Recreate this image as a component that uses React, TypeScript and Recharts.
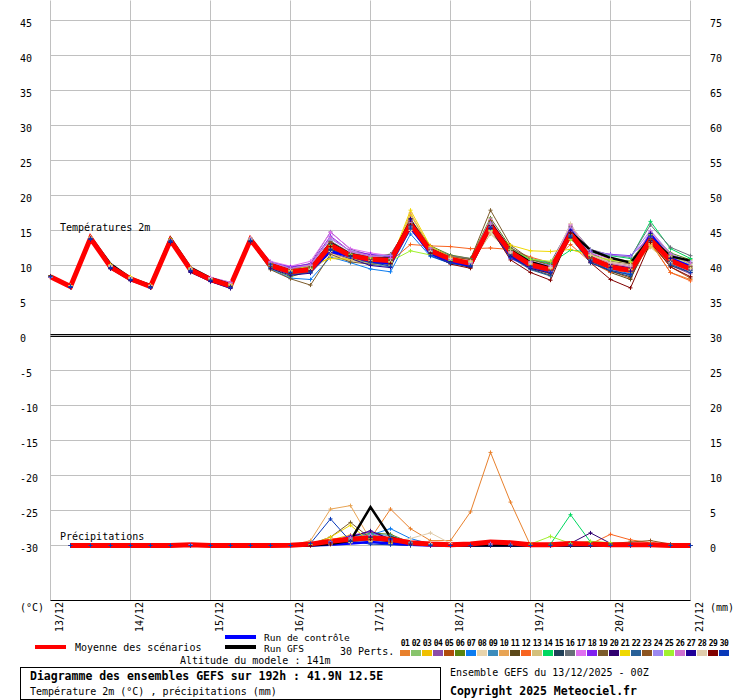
import { CartesianGrid, Line, LineChart, ReferenceLine, XAxis, YAxis } from "recharts";

const FONT = "'DejaVu Sans Mono', monospace";

const hours = [0, 6, 12, 18, 24, 30, 36, 42, 48, 54, 60, 66, 72, 78, 84, 90, 96, 102, 108, 114, 120, 126, 132, 138, 144, 150, 156, 162, 168, 174, 180, 186, 192];
const dayTicks = [0, 24, 48, 72, 96, 120, 144, 168, 192];
const dayLabels = ["13/12", "14/12", "15/12", "16/12", "17/12", "18/12", "19/12", "20/12", "21/12"];
const tempTicks = [45, 40, 35, 30, 25, 20, 15, 10, 5, 0, -5, -10, -15, -20, -25, -30];
const precipTicks = [75, 70, 65, 60, 55, 50, 45, 40, 35, 30, 25, 20, 15, 10, 5, 0];

const pertLabels = ["01", "02", "03", "04", "05", "06", "07", "08", "09", "10", "11", "12", "13", "14", "15", "16", "17", "18", "19", "20", "21", "22", "23", "24", "25", "26", "27", "28", "29", "30"];
const pertColors = ["#e8802c", "#88c46c", "#f0c000", "#8c4ca8", "#b04c0c", "#5a8410", "#0c7cf0", "#e8d4ac", "#3c8cbc", "#e8a454", "#5c4818", "#f86420", "#d4c07c", "#00d860", "#204058", "#687078", "#e070f0", "#8020f0", "#7c5c2c", "#300070", "#f0d800", "#286098", "#8c5420", "#9c88f0", "#a0f030", "#d070d0", "#200098", "#e0ccac", "#800000", "#0838b8"];

// temperatures 2m (°C)
const meanT = [8.4, 7.0, 13.9, 9.8, 8.1, 7.0, 13.6, 9.4, 8.0, 7.1, 13.7, 10.0, 9.1, 9.4, 12.9, 11.4, 10.9, 10.7, 15.9, 12.1, 10.9, 10.3, 15.7, 11.9, 10.1, 9.4, 14.5, 11.0, 9.8, 9.3, 13.7, 10.7, 9.5];
const ctlT = [8.4, 7.0, 13.9, 9.8, 8.0, 7.0, 13.5, 9.3, 7.9, 6.9, 13.6, 10.0, 9.0, 9.4, 12.0, 11.3, 10.6, 10.3, 15.4, 11.7, 10.6, 10.0, 15.6, 11.5, 10.0, 9.3, 15.1, 11.2, 9.9, 9.5, 14.4, 11.0, 9.9];
const gfsT = [8.5, 7.1, 14.1, 10.2, 8.2, 7.2, 13.9, 9.7, 8.2, 7.3, 13.9, 10.2, 9.2, 9.5, 13.2, 11.6, 11.0, 11.0, 16.3, 12.3, 11.0, 10.3, 16.1, 12.2, 10.5, 9.7, 14.8, 12.2, 11.1, 10.4, 13.9, 11.3, 10.7];

const t01 = [8.4, 7.0, 13.9, 9.9, 8.1, 7.0, 13.7, 9.5, 8.0, 7.0, 13.6, 10.2, 9.4, 9.8, 13.2, 11.6, 11.0, 10.5, 16.2, 12.3, 11.0, 10.0, 15.2, 11.5, 9.8, 9.0, 14.8, 11.2, 9.5, 9.0, 13.2, 9.0, 8.0];
const t02 = [8.5, 7.1, 14.0, 9.8, 8.2, 7.1, 13.5, 9.3, 8.1, 7.2, 13.8, 9.8, 8.8, 9.0, 12.5, 11.2, 10.8, 10.9, 15.6, 12.0, 10.8, 10.4, 16.0, 12.2, 10.5, 9.8, 14.2, 11.3, 10.2, 9.8, 14.2, 11.2, 9.8];
const t03 = [8.4, 7.0, 13.8, 10.0, 8.3, 7.1, 13.7, 9.6, 8.2, 7.3, 13.9, 10.1, 9.2, 10.1, 11.0, 10.9, 10.5, 10.2, 17.2, 12.6, 11.2, 10.6, 16.5, 12.0, 10.2, 9.6, 15.0, 11.5, 10.3, 9.5, 12.8, 10.2, 9.0];
const t04 = [8.3, 6.9, 13.9, 9.6, 8.0, 6.9, 13.4, 9.2, 7.9, 7.0, 13.6, 10.5, 9.7, 10.3, 14.8, 12.3, 11.5, 11.2, 16.3, 12.4, 11.1, 10.2, 15.8, 11.7, 9.9, 9.2, 15.5, 11.8, 10.5, 10.0, 14.0, 10.0, 8.8];
const t05 = [8.4, 7.1, 14.0, 9.9, 8.1, 7.0, 13.6, 9.5, 8.0, 7.1, 13.7, 9.9, 9.0, 9.5, 12.2, 11.0, 10.4, 10.1, 15.5, 12.5, 11.3, 10.8, 15.0, 11.2, 9.6, 8.8, 14.0, 10.6, 9.2, 8.2, 13.5, 9.8, 8.2];
const t06 = [8.5, 7.0, 13.9, 9.7, 8.0, 7.0, 13.8, 9.4, 8.1, 7.2, 13.5, 9.6, 8.4, 9.2, 12.0, 11.3, 10.9, 10.8, 16.6, 12.8, 11.5, 11.0, 16.8, 12.6, 10.8, 10.2, 14.8, 12.0, 11.0, 10.6, 14.5, 11.8, 10.8];
const t07 = [8.3, 6.9, 13.8, 9.7, 8.0, 6.8, 13.5, 9.2, 7.8, 6.9, 13.4, 9.5, 8.2, 8.0, 11.2, 10.4, 9.5, 9.1, 14.5, 11.3, 10.3, 9.8, 15.2, 11.4, 9.7, 9.0, 14.2, 10.8, 9.5, 8.8, 13.4, 10.4, 9.2];
const t08 = [8.4, 7.1, 14.0, 10.0, 8.2, 7.1, 13.6, 9.5, 8.1, 7.3, 13.8, 10.0, 9.3, 9.6, 11.5, 11.0, 10.6, 10.6, 15.0, 12.2, 11.1, 10.5, 14.8, 12.0, 10.4, 9.7, 15.8, 11.6, 10.4, 9.9, 12.9, 10.5, 9.2];
const t09 = [8.4, 7.0, 13.9, 9.8, 8.0, 7.0, 13.5, 9.3, 7.9, 7.0, 13.6, 9.7, 8.9, 9.1, 12.4, 11.1, 10.2, 9.8, 15.2, 11.8, 10.6, 10.1, 15.5, 11.6, 9.8, 9.2, 14.4, 10.9, 9.6, 9.1, 14.6, 10.9, 9.6];
const t10 = [8.5, 7.1, 14.1, 10.1, 8.3, 7.2, 13.7, 9.6, 8.2, 7.2, 13.9, 10.3, 9.5, 9.8, 11.8, 10.8, 10.8, 10.4, 17.5, 12.4, 11.0, 10.4, 15.4, 11.8, 10.1, 9.5, 14.6, 11.1, 10.0, 9.5, 13.0, 10.3, 9.3];
const t11 = [8.4, 7.0, 13.9, 9.9, 8.2, 7.1, 13.8, 9.7, 8.1, 7.1, 13.7, 10.4, 9.6, 9.9, 13.4, 11.7, 11.2, 11.6, 16.0, 12.2, 10.8, 10.0, 16.2, 12.4, 10.3, 9.0, 14.7, 11.3, 9.0, 8.0, 14.4, 11.5, 10.4];
const t12 = [8.3, 7.0, 13.8, 9.7, 8.1, 7.0, 13.6, 9.4, 8.0, 7.0, 13.6, 10.1, 9.0, 9.6, 12.6, 11.2, 10.7, 10.6, 13.0, 12.8, 12.7, 12.4, 12.5, 12.3, 11.2, 10.4, 13.0, 10.5, 9.0, 9.3, 13.3, 9.0, 7.8];
const t13 = [8.4, 7.1, 13.9, 9.8, 8.2, 7.0, 13.5, 9.4, 8.2, 7.4, 13.8, 9.9, 9.1, 9.3, 11.3, 10.7, 10.3, 10.0, 16.8, 12.1, 10.9, 10.2, 14.5, 11.8, 10.2, 9.6, 15.9, 11.4, 9.8, 9.4, 12.6, 10.2, 9.0];
const t14 = [8.5, 7.0, 14.0, 9.9, 8.0, 6.9, 13.6, 9.5, 8.0, 7.1, 13.7, 10.2, 9.2, 9.7, 13.0, 11.5, 11.0, 10.9, 16.1, 12.0, 10.7, 10.6, 15.9, 12.1, 10.9, 10.3, 12.2, 11.9, 11.4, 11.0, 16.3, 12.4, 11.0];
const t15 = [8.4, 6.9, 13.8, 9.6, 7.9, 6.9, 13.3, 9.1, 7.8, 6.8, 13.5, 10.0, 8.9, 9.3, 12.3, 11.4, 10.5, 10.4, 15.7, 11.9, 10.5, 9.7, 15.4, 11.5, 9.5, 8.6, 14.0, 10.4, 9.2, 8.4, 13.9, 10.0, 9.0];
const t16 = [8.4, 7.0, 13.9, 9.8, 8.1, 7.1, 13.7, 9.5, 8.1, 7.2, 13.8, 10.3, 9.5, 9.6, 13.5, 11.8, 11.3, 11.0, 15.9, 12.6, 11.4, 11.0, 15.6, 12.5, 11.0, 10.4, 15.6, 12.3, 11.5, 11.2, 15.8, 12.6, 11.4];
const t17 = [8.3, 7.0, 13.9, 9.9, 8.2, 7.1, 13.6, 9.6, 8.3, 7.6, 13.9, 10.6, 9.9, 10.6, 14.7, 12.4, 11.8, 11.4, 16.4, 12.5, 11.2, 10.7, 16.6, 12.3, 10.6, 9.9, 15.9, 11.8, 10.9, 10.5, 14.8, 11.3, 10.0];
const t18 = [8.4, 7.0, 13.9, 9.7, 8.0, 6.9, 13.4, 9.2, 7.9, 6.9, 13.6, 10.4, 9.8, 10.2, 14.2, 12.0, 11.6, 11.3, 16.2, 12.3, 10.9, 10.5, 15.4, 11.0, 9.7, 9.1, 14.9, 12.0, 11.6, 11.4, 14.1, 10.8, 9.5];
const t19 = [8.5, 7.1, 14.0, 9.8, 8.1, 7.0, 13.8, 9.6, 8.1, 7.2, 13.4, 9.4, 8.1, 7.2, 11.6, 10.5, 10.2, 10.3, 16.0, 12.4, 11.2, 10.9, 17.9, 12.9, 10.9, 10.0, 13.8, 11.6, 10.6, 10.2, 14.3, 11.1, 9.9];
const t20 = [8.4, 6.9, 13.7, 9.5, 7.8, 6.8, 13.3, 9.0, 7.7, 6.7, 13.5, 10.1, 9.1, 9.3, 13.1, 11.5, 10.8, 10.7, 16.7, 12.2, 10.6, 9.9, 15.7, 11.3, 9.9, 9.3, 14.7, 11.2, 10.1, 9.7, 13.6, 10.5, 9.6];
const t21 = [8.4, 7.1, 14.0, 10.1, 8.4, 7.2, 13.8, 9.7, 8.2, 7.3, 13.9, 10.2, 9.3, 10.0, 11.0, 10.9, 10.6, 10.5, 17.9, 12.7, 11.2, 10.6, 15.0, 12.9, 12.1, 12.0, 12.3, 11.4, 10.8, 10.4, 13.1, 10.8, 9.6];
const t22 = [8.3, 6.9, 13.8, 9.6, 7.9, 6.9, 13.4, 9.2, 7.8, 6.9, 13.5, 9.8, 8.7, 9.0, 12.1, 11.2, 10.4, 10.2, 15.3, 11.6, 10.4, 9.9, 15.1, 11.2, 9.4, 8.5, 14.3, 10.7, 9.3, 8.6, 14.5, 10.6, 9.3];
const t23 = [8.5, 7.0, 13.9, 9.8, 8.1, 7.0, 13.7, 9.5, 8.0, 7.1, 13.8, 10.3, 9.4, 9.7, 13.3, 11.3, 11.0, 10.8, 16.3, 12.3, 11.0, 10.3, 16.4, 12.1, 10.0, 9.3, 14.6, 11.0, 9.9, 9.6, 13.7, 11.0, 9.8];
const t24 = [8.4, 7.0, 14.0, 9.9, 8.2, 7.1, 13.6, 9.5, 8.2, 7.5, 13.9, 10.5, 9.6, 10.0, 13.8, 12.1, 11.3, 11.5, 15.8, 12.1, 10.8, 10.4, 16.1, 11.9, 10.5, 10.0, 15.3, 12.2, 11.5, 11.3, 15.0, 11.7, 10.5];
const t25 = [8.4, 7.0, 13.9, 9.8, 8.1, 7.0, 13.5, 9.4, 8.0, 7.0, 13.6, 9.9, 9.0, 9.5, 12.8, 11.6, 11.1, 10.6, 12.1, 11.5, 10.7, 10.6, 15.0, 12.3, 10.9, 10.6, 13.7, 11.5, 10.7, 10.6, 14.4, 11.4, 10.2];
const t26 = [8.3, 7.0, 13.9, 9.9, 8.2, 7.1, 13.7, 9.6, 8.3, 7.6, 13.8, 10.4, 9.6, 10.1, 14.0, 12.0, 11.4, 11.0, 16.1, 12.4, 11.0, 10.3, 15.9, 12.0, 10.4, 9.8, 15.7, 11.6, 10.3, 9.8, 14.9, 11.6, 10.3];
const t27 = [8.4, 6.9, 13.8, 9.6, 7.9, 6.9, 13.4, 9.1, 7.7, 6.8, 13.4, 9.6, 8.6, 8.9, 11.9, 11.0, 10.0, 9.7, 16.5, 12.0, 10.5, 9.8, 15.3, 11.3, 9.6, 8.9, 15.0, 10.6, 9.7, 9.2, 14.6, 11.0, 9.4];
const t28 = [8.4, 7.1, 14.0, 9.9, 8.2, 7.1, 13.6, 9.5, 8.1, 7.2, 13.7, 10.0, 9.2, 9.4, 12.0, 11.1, 10.7, 10.5, 15.5, 12.0, 11.0, 10.5, 14.9, 11.9, 10.3, 9.7, 16.0, 11.5, 10.5, 10.1, 13.2, 10.4, 9.5];
const t29 = [8.5, 7.0, 13.9, 9.7, 8.0, 7.0, 13.6, 9.3, 7.9, 7.0, 13.5, 9.9, 8.9, 9.2, 12.7, 11.3, 10.6, 10.3, 15.8, 11.7, 10.2, 9.6, 15.3, 10.8, 9.0, 7.9, 14.6, 10.4, 8.0, 6.8, 13.3, 9.8, 8.4];
const t30 = [8.4, 7.0, 13.8, 9.7, 8.0, 6.9, 13.5, 9.3, 7.9, 6.9, 13.6, 10.1, 9.0, 9.1, 12.2, 11.2, 10.5, 9.9, 15.5, 11.4, 10.3, 10.0, 15.4, 11.1, 9.8, 9.0, 14.1, 10.4, 9.3, 8.7, 14.2, 10.2, 9.0];

// précipitations (mm), no value at 0h
const meanP = [null, 0, 0, 0, 0, 0, 0, 0.1, 0, 0, 0, 0, 0.05, 0.2, 0.6, 0.9, 1.1, 0.9, 0.4, 0.2, 0.1, 0.2, 0.5, 0.4, 0.1, 0.1, 0.3, 0.2, 0.1, 0.1, 0.1, 0, 0];
const ctlP = [null, 0, 0, 0, 0, 0, 0, 0.1, 0, 0, 0, 0, 0, 0, 0.1, 0.3, 0.5, 0.3, 0.1, 0, 0, 0, 0, 0, 0, 0, 0, 0, 0, 0, 0, 0, 0];
const gfsP = [null, 0, 0, 0, 0, 0, 0, 0, 0, 0, 0, 0, 0, 0, 0.2, 0.7, 5.5, 1.2, 0.3, 0.1, 0, 0, 0, 0, 0, 0, 0, 0, 0, 0, 0, 0, 0];

const p01 = [null, 0, 0, 0, 0, 0, 0, 0, 0, 0, 0, 0, 0, 0.2, 0.5, 0.6, 1.0, 5.2, 2.4, 0.7, 0.7, 4.8, 13.3, 6.2, 0, 0, 0, 0, 0, 0, 0, 0, 0];
const p02 = [null, 0, 0, 0, 0, 0, 0, 0.1, 0, 0, 0, 0, 0, 0, 0.3, 0.8, 1.2, 0.9, 0.2, 0, 0, 0, 0.2, 0.1, 0, 0, 0, 0, 0, 0, 0, 0, 0];
const p03 = [null, 0, 0, 0, 0, 0, 0, 0, 0, 0, 0, 0, 0, 0, 0.8, 1.5, 0.6, 0.3, 0, 0, 0, 0, 0, 0, 0, 0, 0, 0, 0, 0, 0, 0, 0];
const p04 = [null, 0, 0, 0, 0, 0, 0, 0.1, 0, 0, 0, 0, 0, 0.1, 0.5, 1.2, 1.9, 0.8, 0.3, 0, 0, 0, 0.3, 0.2, 0, 0, 0.2, 0, 0, 0, 0, 0, 0];
const p05 = [null, 0, 0, 0, 0, 0, 0, 0, 0, 0, 0, 0, 0, 0, 0.4, 1.0, 1.4, 1.1, 0.2, 0, 0, 0, 0, 0, 0, 0, 0, 0, 0, 0, 0, 0, 0];
const p06 = [null, 0, 0, 0, 0, 0, 0, 0, 0, 0, 0, 0, 0, 0, 0.2, 0.9, 1.8, 1.6, 0.4, 0, 0, 0, 0, 0, 0, 0, 0.3, 0, 0, 0, 0, 0, 0];
const p07 = [null, 0, 0, 0, 0, 0, 0, 0, 0, 0, 0, 0, 0, 0, 0.3, 0.6, 1.5, 2.4, 1.0, 0.2, 0, 0, 0, 0, 0, 0, 0, 0, 0, 0, 0, 0, 0];
const p08 = [null, 0, 0, 0, 0, 0, 0, 0, 0, 0, 0, 0, 0, 0, 0.2, 0.5, 0.9, 0.7, 0.4, 0.3, 0, 0, 0, 0, 0, 0, 0, 0, 0, 0, 0, 0, 0];
const p09 = [null, 0, 0, 0, 0, 0, 0, 0, 0, 0, 0, 0, 0, 0.1, 0.6, 1.3, 1.7, 1.4, 0.5, 0.1, 0, 0, 0, 0, 0, 0, 0, 0, 0, 0, 0, 0, 0];
const p10 = [null, 0, 0, 0, 0, 0, 0, 0, 0, 0, 0, 0, 0, 0.7, 5.2, 5.7, 0.8, 0.3, 0, 0, 0, 0, 0, 0, 0, 0, 0, 0, 0, 0, 0, 0, 0];
const p11 = [null, 0, 0, 0, 0, 0, 0, 0, 0, 0, 0, 0, 0, 0, 0.3, 0.8, 1.1, 0.6, 0.1, 0, 0, 0, 0, 0, 0, 0, 0, 0, 0, 0, 0, 0, 0];
const p12 = [null, 0, 0, 0, 0, 0, 0, 0, 0, 0, 0, 0, 0, 0, 0.1, 0.4, 0.9, 0.5, 0, 0, 0, 0, 0, 0, 0, 0, 0, 0.2, 1.6, 0.8, 0.4, 0.1, 0];
const p13 = [null, 0, 0, 0, 0, 0, 0, 0, 0, 0, 0, 0, 0, 0, 0.2, 0.7, 1.0, 0.4, 0, 0, 0, 0, 0, 0, 0, 0, 0, 0, 0, 0, 0, 0, 0];
const p14 = [null, 0, 0, 0, 0, 0, 0, 0, 0, 0, 0, 0, 0, 0, 0.3, 1.0, 1.6, 0.8, 0.2, 0, 0, 0, 0, 0, 0, 0.2, 4.4, 0.5, 0.2, 0, 0, 0, 0];
const p15 = [null, 0, 0, 0, 0, 0, 0, 0, 0, 0, 0, 0, 0, 0, 0.2, 0.6, 1.3, 1.0, 0.3, 0, 0, 0, 0, 0, 0, 0, 0, 0, 0, 0, 0, 0, 0];
const p16 = [null, 0, 0, 0, 0, 0, 0, 0, 0, 0, 0, 0, 0, 0, 0.1, 0.5, 0.8, 0.6, 0.2, 0, 0, 0, 0, 0, 0, 0, 0, 0, 0, 0, 0, 0, 0];
const p17 = [null, 0, 0, 0, 0, 0, 0, 0.1, 0, 0, 0, 0, 0, 0, 0.4, 1.1, 1.5, 0.7, 0.1, 0, 0, 0, 0.2, 0, 0, 0, 0, 0, 0, 0, 0, 0, 0];
const p18 = [null, 0, 0, 0, 0, 0, 0, 0, 0, 0, 0, 0, 0, 0, 0.5, 1.4, 2.0, 0.9, 0.2, 0, 0, 0, 0, 0, 0, 0, 0, 0, 0, 0, 0, 0, 0];
const p19 = [null, 0, 0, 0, 0, 0, 0, 0, 0, 0, 0, 0, 0, 0.2, 1.2, 3.3, 1.0, 0.5, 0.1, 0, 0, 0, 0, 0, 0, 0, 0, 0, 0, 0, 0, 0, 0];
const p20 = [null, 0, 0, 0, 0, 0, 0, 0, 0, 0, 0, 0, 0, 0, 0.4, 1.2, 2.1, 0.9, 0.1, 0, 0, 0, 0, 0, 0, 0, 0.3, 1.8, 0.3, 0, 0, 0, 0];
const p21 = [null, 0, 0, 0, 0, 0, 0, 0, 0, 0, 0, 0, 0, 0.1, 1.2, 2.9, 0.5, 0.2, 0, 0, 0, 0, 0, 0, 0, 0, 0, 0, 0, 0, 0, 0, 0];
const p22 = [null, 0, 0, 0, 0, 0, 0, 0, 0, 0, 0, 0, 0, 0, 0.3, 0.7, 1.2, 0.9, 0.3, 0, 0, 0, 0, 0, 0, 0, 0, 0, 0, 0, 0, 0, 0];
const p23 = [null, 0, 0, 0, 0, 0, 0, 0, 0, 0, 0, 0, 0, 0, 0.2, 0.8, 1.3, 0.7, 0.2, 0, 0, 0, 0, 0, 0, 0, 0, 0, 0.3, 0.5, 0.7, 0.2, 0];
const p24 = [null, 0, 0, 0, 0, 0, 0, 0, 0, 0, 0, 0, 0, 0, 0.3, 0.9, 1.4, 0.6, 0.1, 0, 0, 0, 0, 0, 0, 0, 0, 0, 0, 0, 0, 0, 0];
const p25 = [null, 0, 0, 0, 0, 0, 0, 0, 0, 0, 0, 0, 0, 0, 0.2, 0.5, 1.0, 0.5, 0.1, 0, 0, 0, 0, 0, 0.2, 1.3, 0.3, 0.6, 0.4, 0, 0, 0, 0];
const p26 = [null, 0, 0, 0, 0, 0, 0, 0, 0, 0, 0, 0, 0, 0, 0.3, 1.1, 1.4, 0.8, 0.2, 0, 0, 0, 0, 0, 0, 0, 0, 0, 0, 0, 0, 0, 0];
const p27 = [null, 0, 0, 0, 0, 0, 0, 0, 0, 0, 0, 0, 0, 0, 0.2, 0.6, 1.2, 0.8, 0.2, 0, 0, 0, 0, 0, 0, 0, 0, 0, 0, 0, 0, 0, 0];
const p28 = [null, 0, 0, 0, 0, 0, 0, 0, 0, 0, 0, 0, 0, 0, 0.1, 0.4, 0.6, 0.5, 1.0, 1.8, 0.3, 0, 0, 0, 0, 0, 0, 0, 0, 0, 0, 0, 0];
const p29 = [null, 0, 0, 0, 0, 0, 0, 0, 0, 0, 0, 0, 0, 0, 0.2, 0.6, 0.9, 0.5, 0.1, 0, 0, 0, 0, 0, 0, 0, 0, 0, 0, 0, 0, 0, 0];
const p30 = [null, 0, 0, 0, 0, 0, 0, 0, 0, 0, 0, 0, 0, 0.3, 3.8, 0.6, 0.2, 0.1, 0, 0, 0, 0, 0, 0, 0, 0, 0, 0, 0, 0, 0, 0, 0];

const tempMembers = [t01, t02, t03, t04, t05, t06, t07, t08, t09, t10, t11, t12, t13, t14, t15, t16, t17, t18, t19, t20, t21, t22, t23, t24, t25, t26, t27, t28, t29, t30];
const precipMembers = [p01, p02, p03, p04, p05, p06, p07, p08, p09, p10, p11, p12, p13, p14, p15, p16, p17, p18, p19, p20, p21, p22, p23, p24, p25, p26, p27, p28, p29, p30];

const rows = hours.map((h, i) => {
  const row: Record<string, number | null> = {
    h,
    meanT: meanT[i],
    ctlT: ctlT[i],
    gfsT: gfsT[i],
    meanP: meanP[i],
    ctlP: ctlP[i],
    gfsP: gfsP[i],
  };
  tempMembers.forEach((m, k) => (row[`t${k}`] = m[i]));
  precipMembers.forEach((m, k) => (row[`p${k}`] = m[i]));
  return row;
});

// small "+" marker on every perturbation point
const plusDot = (props: any) => {
  const { cx, cy, stroke, index } = props;
  if (cx == null || cy == null || Number.isNaN(cy)) return <g key={`d${index}`} />;
  return <path key={`d${index}`} d={`M${cx - 2},${cy}h4M${cx},${cy - 2}v4`} stroke={stroke} strokeWidth={1} fill="none" />;
};

const LeftTick = ({ y, payload }: any) => (
  <text x={20} y={y + 6.5} fontSize={10} fontFamily={FONT} fill="#000">
    {payload.value}
  </text>
);

const RightTick = ({ y, payload }: any) => (
  <text x={710} y={y + 6.5} fontSize={10} fontFamily={FONT} fill="#000">
    {payload.value}
  </text>
);

const DayTick = ({ x, payload }: any) => (
  <text transform={`translate(${x + 12},602) rotate(-90)`} textAnchor="end" fontSize={10} fontFamily={FONT} fill="#000">
    {dayLabels[dayTicks.indexOf(payload.value)]}
  </text>
);

export default function App() {
  return (
    <div style={{ position: "absolute", left: 0, top: 0, width: 740, height: 700, overflow: "hidden", background: "#fff" }}>
      <LineChart width={740.5} height={700.5} data={rows} margin={{ top: 0.5, right: 0, bottom: 0, left: 0.5 }}>
        <CartesianGrid yAxisId="t" stroke="#c0c0c0" syncWithTicks />
        <XAxis
          dataKey="h"
          type="number"
          domain={[0, 192]}
          ticks={dayTicks}
          interval={0}
          height={100}
          tickLine={false}
          axisLine={{ stroke: "#000" }}
          tick={<DayTick />}
        />
        <YAxis
          yAxisId="t"
          type="number"
          domain={[-37.857, 47.857]}
          allowDataOverflow
          ticks={tempTicks}
          interval={0}
          width={50}
          tickLine={false}
          axisLine={false}
          tick={<LeftTick />}
        />
        <YAxis
          yAxisId="p"
          orientation="right"
          type="number"
          domain={[-7.857, 77.857]}
          allowDataOverflow
          ticks={precipTicks}
          interval={0}
          width={50}
          tickLine={false}
          axisLine={false}
          tick={<RightTick />}
        />
        <ReferenceLine yAxisId="t" y={0.14} stroke="#000" strokeWidth={1} />
        <ReferenceLine yAxisId="t" y={-0.14} stroke="#000" strokeWidth={1} />

        {tempMembers.map((_, k) => (
          <Line key={`t${k}`} yAxisId="t" dataKey={`t${k}`} type="linear" stroke={pertColors[k]} strokeWidth={1} dot={plusDot} activeDot={false} isAnimationActive={false} />
        ))}
        {precipMembers.map((_, k) => (
          <Line key={`p${k}`} yAxisId="p" dataKey={`p${k}`} type="linear" stroke={pertColors[k]} strokeWidth={1} dot={plusDot} activeDot={false} isAnimationActive={false} />
        ))}

        <Line yAxisId="t" dataKey="ctlT" type="linear" stroke="#0000ff" strokeWidth={2.5} dot={false} activeDot={false} isAnimationActive={false} />
        <Line yAxisId="p" dataKey="ctlP" type="linear" stroke="#0000ff" strokeWidth={2.5} dot={false} activeDot={false} isAnimationActive={false} />
        <Line yAxisId="t" dataKey="gfsT" type="linear" stroke="#000000" strokeWidth={2.5} dot={false} activeDot={false} isAnimationActive={false} />
        <Line yAxisId="p" dataKey="gfsP" type="linear" stroke="#000000" strokeWidth={2.5} dot={false} activeDot={false} isAnimationActive={false} />
        <Line yAxisId="t" dataKey="meanT" type="linear" stroke="#ff0000" strokeWidth={5} dot={false} activeDot={false} isAnimationActive={false} />
        <Line yAxisId="p" dataKey="meanP" type="linear" stroke="#ff0000" strokeWidth={5} dot={false} activeDot={false} isAnimationActive={false} />
      </LineChart>

      <svg width={740} height={700} style={{ position: "absolute", left: 0, top: 0, pointerEvents: "none" }} fontFamily={FONT} fontSize={10} fill="#000">
        <text x={60} y={231}>Températures 2m</text>
        <text x={60} y={540}>Précipitations</text>
        <text x={20} y={611}>(°C)</text>
        <text x={710} y={611}>(mm)</text>

        <rect x={35} y={645} width={31} height={4} fill="#ff0000" />
        <text x={75} y={651}>Moyenne des scénarios</text>
        <rect x={225} y={635} width={31} height={4} fill="#0000ff" />
        <text x={264} y={640.5} fontSize={9.5}>Run de contrôle</text>
        <rect x={225} y={645} width={31} height={4} fill="#000000" />
        <text x={264} y={652} fontSize={9.5}>Run GFS</text>
        <text x={340} y={655}>30 Perts.</text>
        {pertLabels.map((lab, k) => (
          <g key={lab}>
            <text x={405 + 11 * k} y={646} fontSize={8} fontWeight="bold" textAnchor="middle" letterSpacing={-0.5}>
              {lab}
            </text>
            <rect x={400 + 11 * k} y={650} width={10} height={6} fill={pertColors[k]} />
          </g>
        ))}
        <text x={180} y={664}>Altitude du modele : 141m</text>

        <rect x={20.5} y={667.5} width={420} height={32} fill="none" stroke="#000" strokeWidth={1} />
        <text x={30} y={680} fontSize={11.5} fontWeight="bold">
          Diagramme des ensembles GEFS sur 192h : 41.9N 12.5E
        </text>
        <text x={30} y={695}>Température 2m (°C) , précipitations (mm)</text>
        <text x={450} y={676}>Ensemble GEFS du 13/12/2025 - 00Z</text>
        <text x={450} y={695} fontSize={11.5} fontWeight="bold">
          Copyright 2025 Meteociel.fr
        </text>
      </svg>
    </div>
  );
}
